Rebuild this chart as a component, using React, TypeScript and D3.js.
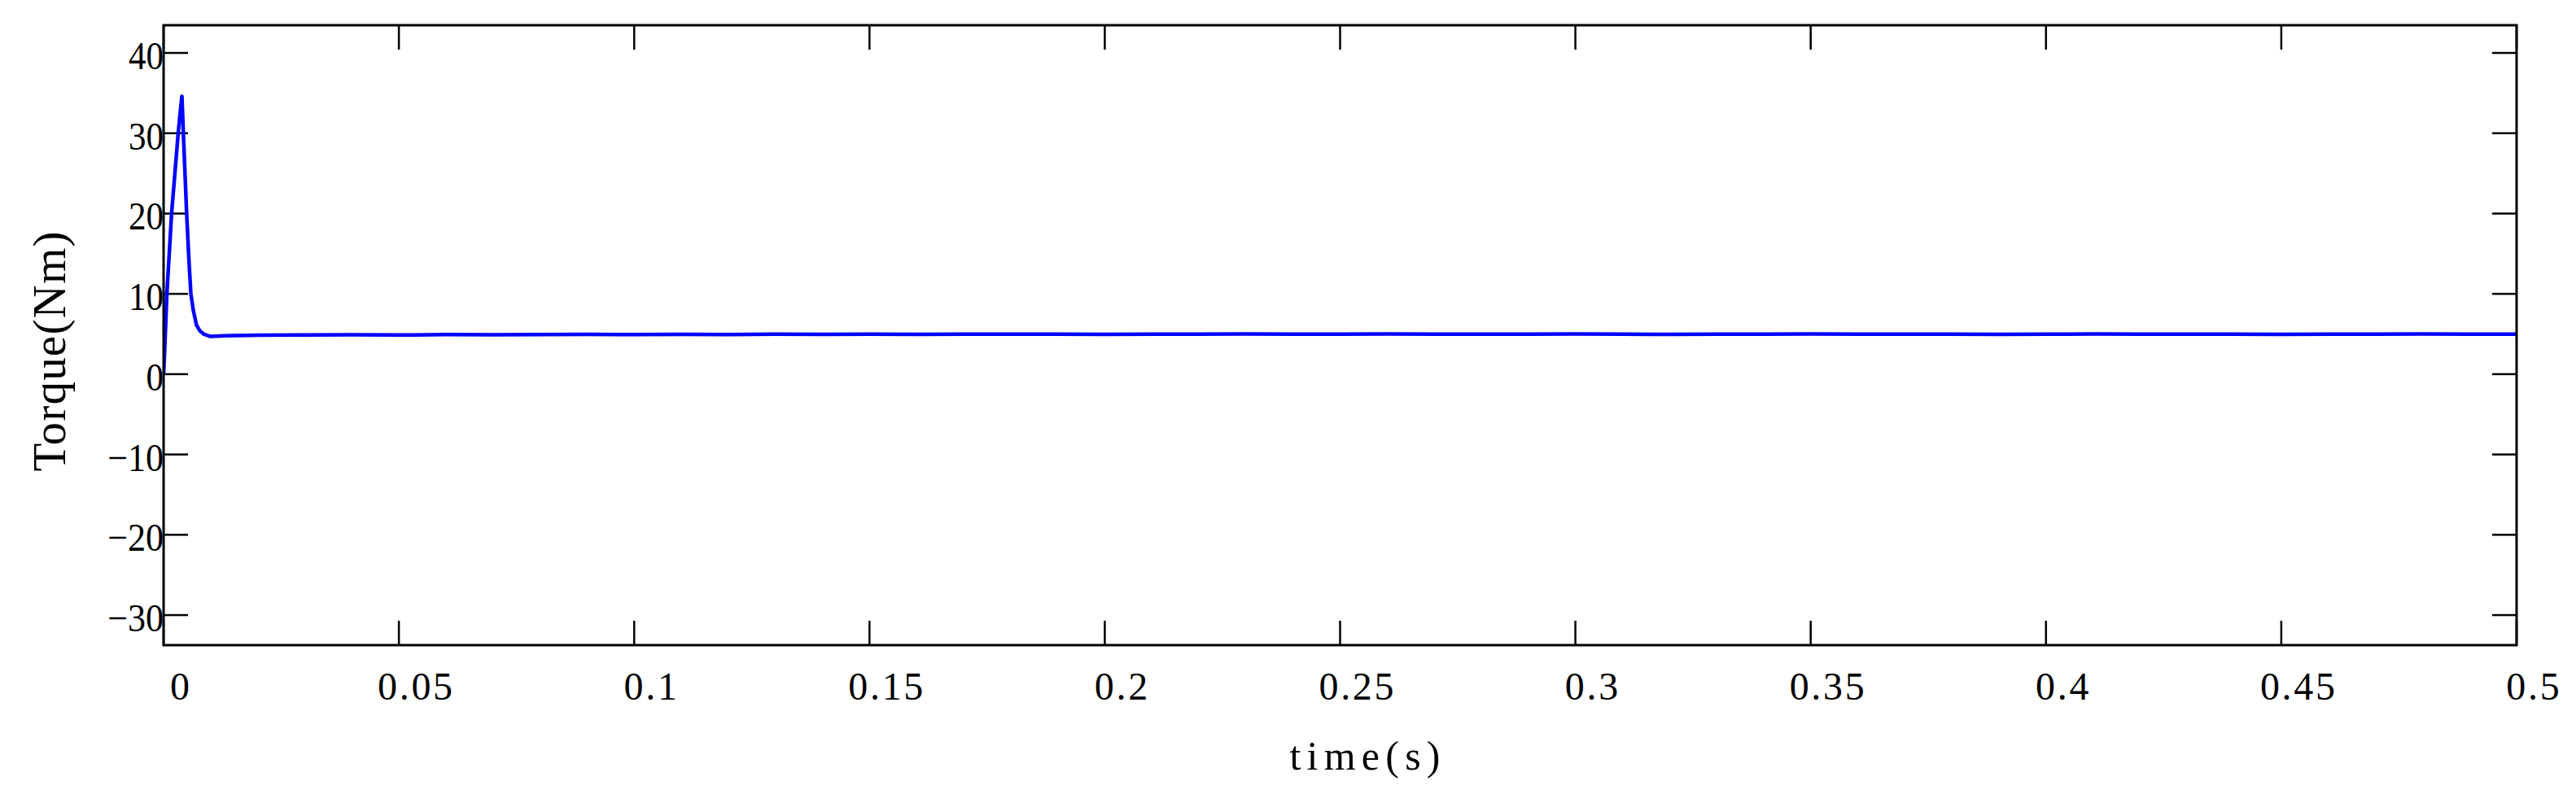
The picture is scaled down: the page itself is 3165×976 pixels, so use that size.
import React from "react";
import * as d3 from "d3";

const timeS: number[] = [0, 0.0002, 0.0007, 0.0012, 0.0017, 0.0024, 0.0031, 0.0036, 0.0039, 0.0042, 0.0049, 0.0054, 0.0058, 0.0063, 0.007, 0.0077, 0.0085, 0.0099, 0.011, 0.013, 0.015, 0.018, 0.02, 0.03, 0.04, 0.05, 0.06, 0.07, 0.08, 0.09, 0.1, 0.11, 0.12, 0.13, 0.14, 0.15, 0.16, 0.17, 0.18, 0.19, 0.2, 0.21, 0.22, 0.23, 0.24, 0.25, 0.26, 0.27, 0.28, 0.29, 0.3, 0.31, 0.32, 0.33, 0.34, 0.35, 0.36, 0.37, 0.38, 0.39, 0.4, 0.41, 0.42, 0.43, 0.44, 0.45, 0.46, 0.47, 0.48, 0.49, 0.5];
const torqueNm: number[] = [0, 2.5, 10, 15, 20, 25, 30, 33, 34.6, 30, 20, 14, 10, 8, 6.1, 5.4, 5.0, 4.7, 4.72, 4.78, 4.8, 4.82, 4.85, 4.88, 4.9, 4.87, 4.92, 4.9, 4.93, 4.95, 4.92, 4.96, 4.94, 4.97, 4.95, 4.98, 4.96, 4.99, 4.97, 4.98, 4.96, 4.99, 4.97, 5.0, 4.98, 4.97, 5.0, 4.98, 4.99, 4.97, 5.0, 4.98, 4.96, 4.99, 4.97, 5.0, 4.98, 4.97, 4.99, 4.96, 4.98, 5.0, 4.97, 4.99, 4.98, 4.96, 4.99, 4.97, 5.0, 4.98, 4.98];

const xTicks: number[] = [0, 0.05, 0.1, 0.15, 0.2, 0.25, 0.3, 0.35, 0.4, 0.45, 0.5];
const xTickLabels: string[] = ["0", "0.05", "0.1", "0.15", "0.2", "0.25", "0.3", "0.35", "0.4", "0.45", "0.5"];
const yTicks: number[] = [-30, -20, -10, 0, 10, 20, 30, 40];
const yTickLabels: string[] = ["−30", "−20", "−10", "0", "10", "20", "30", "40"];
const xTitle = "time(s)";
const yTitle = "Torque(Nm)";

export default function App() {
  const W = 3165, H = 976;
  const L = 201, R = 3092, T = 31, B = 793;
  const x = d3.scaleLinear().domain([0, 0.5]).range([L, R]);
  const y = d3.scaleLinear().domain([-33.74, 43.45]).range([B, T]);
  const data = timeS.map((t, i) => [t, torqueNm[i]] as [number, number]);
  const line = d3.line<[number, number]>().x(d => x(d[0])).y(d => y(d[1]));
  const font = "'Liberation Serif', 'Times New Roman', serif";
  const tickLen = 30;
  return (
    <svg width={W} height={H} style={{ position: "absolute", left: 0, top: 0, background: "#fff" }}>
      <rect x={0} y={0} width={W} height={H} fill="#fff" />
      <defs>
        <clipPath id="plotclip">
          <rect x={L} y={T} width={R - L} height={B - T} />
        </clipPath>
      </defs>
      {xTicks.map((v, i) => (
        <g key={"xt" + i} stroke="#000" strokeWidth={2.5}>
          <line x1={x(v)} x2={x(v)} y1={B} y2={B - tickLen} />
          <line x1={x(v)} x2={x(v)} y1={T} y2={T + tickLen} />
        </g>
      ))}
      {yTicks.map((v, i) => (
        <g key={"yt" + i} stroke="#000" strokeWidth={2.5}>
          <line x1={L} x2={L + tickLen} y1={y(v)} y2={y(v)} />
          <line x1={R} x2={R - tickLen} y1={y(v)} y2={y(v)} />
        </g>
      ))}
      <path d={line(data) || ""} fill="none" stroke="#0000ff" strokeWidth={4.5} strokeLinejoin="round" clipPath="url(#plotclip)" />
      <rect x={L} y={T} width={R - L} height={B - T} fill="none" stroke="#000" strokeWidth={3} />
      {xTicks.map((v, i) => {
        const s = xTickLabels[i];
        const extra = s.length > 1 ? { textLength: s.length * 26.5 - 14, lengthAdjust: "spacing" } : {};
        return (
          <text key={"xl" + i} x={x(v) + 20} y={860} textAnchor="middle" fontFamily={font} fontSize={48} fill="#000" {...(extra as any)}>
            {s}
          </text>
        );
      })}
      {yTicks.map((v, i) => {
        const s = yTickLabels[i];
        const digits = s.replace("−", "").length;
        const len = digits * 21.5 + (s.startsWith("−") ? 26 : 0);
        return (
          <text key={"yl" + i} x={L} y={y(v) + 20} textAnchor="end" fontFamily={font} fontSize={48} fill="#000" textLength={len} lengthAdjust="spacingAndGlyphs">
            {s}
          </text>
        );
      })}
      <text x={1677} y={946} textAnchor="middle" fontFamily={font} fontSize={50} fill="#000" textLength={185} lengthAdjust="spacing">
        {xTitle}
      </text>
      <text transform={`translate(80,432) rotate(-90)`} textAnchor="middle" fontFamily={font} fontSize={57} fill="#000" textLength={295} lengthAdjust="spacing">
        {yTitle}
      </text>
    </svg>
  );
}
